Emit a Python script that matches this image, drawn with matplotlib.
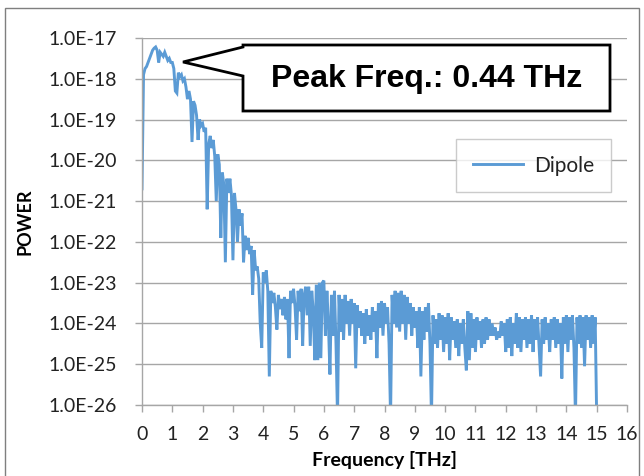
import numpy as np
import matplotlib
matplotlib.use("Agg")
import matplotlib.pyplot as plt
from matplotlib.patches import Polygon, Rectangle
from matplotlib.ticker import FixedLocator, NullLocator

# ---------------- data ----------------
freq_step_thz = 0.05  # sampling step of the spectrum
# log10 of the dipole power, one value every 0.05 THz from 0.00 to 15.00 THz
log10_power = [
    # 0.00 - 0.95
    -20.7, -17.9, -17.75, -17.7, -17.6, -17.5, -17.4, -17.3, -17.25, -17.22,
    -17.3, -17.6, -17.35, -17.4, -17.45, -17.35, -17.45, -17.55, -17.5, -17.6,
    # 1.00 - 1.95
    -17.6, -17.75, -18.3, -18.35, -17.85, -17.95, -17.9, -18.05, -18.0, -18.2,
    -18.5, -18.3, -18.5, -19.55, -18.55, -18.65, -18.9, -19.5, -19.0, -19.15,
    # 2.00 - 2.95
    -19.1, -19.3, -19.2, -21.2, -19.6, -19.4, -19.7, -19.5, -19.9, -21.0,
    -19.85, -20.1, -21.9, -20.3, -20.6, -22.5, -20.45, -20.8, -20.45, -20.85,
    # 3.00 - 3.95
    -22.45, -20.8, -21.2, -22.0, -21.2, -21.6, -21.3, -22.5, -21.85, -22.2,
    -21.9, -22.3, -22.1, -23.3, -22.2, -22.7, -22.6, -22.9, -24.0, -24.6,
    # 4.00 - 4.95
    -22.75, -23.0, -22.7, -23.2, -25.3, -23.2, -23.5, -23.25, -23.6, -24.15,
    -23.3, -23.65, -23.4, -23.8, -23.35, -23.9, -23.4, -24.85, -23.2, -23.5,
    # 5.00 - 5.95
    -23.15, -23.6, -24.4, -23.2, -23.7, -23.15, -24.55, -23.3, -23.1, -23.8,
    -23.1, -24.55, -23.2, -23.7, -24.9, -23.05, -24.9, -23.0, -24.85, -23.0,
    # 6.00 - 6.95
    -22.95, -24.3, -23.2, -24.0, -25.25, -23.3, -24.3, -23.2, -24.5, -26.3,
    -23.3, -24.2, -23.4, -24.4, -23.3, -24.0, -23.45, -24.3, -23.4, -24.0,
    # 7.00 - 7.95
    -23.5, -25.1, -23.55, -24.1, -23.7, -24.3, -23.75, -24.5, -23.65, -24.3,
    -23.8, -24.4, -23.6, -24.2, -23.7, -24.85, -23.5, -24.1, -23.45, -24.3,
    # 8.00 - 8.95
    -23.5, -24.0, -23.6, -24.5, -26.3, -23.3, -24.0, -23.2, -24.1, -23.25,
    -24.2, -23.2, -24.0, -23.3, -24.4, -23.35, -24.0, -23.5, -24.3, -23.6,
    # 9.00 - 9.95
    -24.1, -23.7, -24.6, -23.6, -25.3, -23.7, -24.4, -23.6, -24.2, -23.5,
    -24.5, -26.3, -23.8, -24.5, -23.9, -24.6, -23.75, -24.4, -23.8, -24.7,
    # 10.00 - 10.95
    -23.85, -24.5, -23.75, -24.9, -23.85, -24.4, -23.95, -24.6, -23.9, -24.8,
    -24.0, -24.5, -23.9, -24.6, -25.15, -23.7, -24.9, -23.75, -24.6, -23.9,
    # 11.00 - 11.95
    -24.7, -23.85, -24.4, -23.95, -24.6, -23.9, -24.5, -23.85, -24.4, -23.9,
    -24.3, -24.0, -24.3, -24.1, -24.4, -24.2, -24.35, -23.95, -24.3, -24.0,
    # 12.00 - 12.95
    -24.7, -23.9, -24.6, -23.85, -24.8, -24.0, -24.5, -23.75, -24.6, -23.85,
    -24.7, -23.9, -24.4, -23.85, -24.6, -23.9, -24.5, -23.8, -24.7, -23.9,
    # 13.00 - 13.95
    -24.4, -23.85, -24.6, -25.3, -23.9, -24.5, -23.85, -24.4, -24.0, -24.7,
    -23.9, -24.4, -23.85, -24.6, -23.9, -24.5, -24.0, -25.35, -23.85, -24.5,
    # 14.00 - 14.95
    -23.8, -24.7, -23.85, -24.4, -23.8, -24.6, -26.3, -23.85, -24.5, -23.8,
    -24.6, -23.85, -25.05, -23.8, -24.4, -23.85, -24.6, -23.8, -24.5, -23.85,
    # 15.00
    -26.3,
]
series_name = "Dipole"
x_ticks = list(range(0, 17))
y_tick_exponents = list(range(-26, -16))
y_tick_labels = ["1.0E-26", "1.0E-25", "1.0E-24", "1.0E-23", "1.0E-22",
                 "1.0E-21", "1.0E-20", "1.0E-19", "1.0E-18", "1.0E-17"]
x_label = "Frequency [THz]"
y_label = "POWER"
callout_text = "Peak Freq.: 0.44 THz"

# ---------------- figure ----------------
W, H = 644, 476
fig = plt.figure(figsize=(W / 100, H / 100), dpi=100)
fig.patch.set_facecolor("white")

font = ["Lato", "DejaVu Sans"]
grid_c = "#a6a6a6"
line_c = "#5b9bd5"

ax = fig.add_axes([142 / W, 1 - 405 / H, (627 - 142) / W, (405 - 38) / H])

freq = np.arange(len(log10_power)) * freq_step_thz
power = np.power(10.0, np.array(log10_power))
ax.plot(freq, power, color=line_c, lw=2.1, solid_joinstyle="miter", label=series_name)

ax.set_yscale("log")
ax.set_ylim(10.0 ** y_tick_exponents[0], 10.0 ** y_tick_exponents[-1])
ax.set_xlim(x_ticks[0], x_ticks[-1])

ax.yaxis.set_major_locator(FixedLocator([10.0 ** e for e in y_tick_exponents]))
ax.yaxis.set_minor_locator(NullLocator())
ax.set_yticklabels(y_tick_labels)
ax.set_xticks(x_ticks)
ax.set_xticklabels([str(t) for t in x_ticks])

for lab in ax.get_xticklabels() + ax.get_yticklabels():
    lab.set_family(font)
    lab.set_fontsize(14)
    lab.set_color("#222222")

ax.grid(axis="y", color=grid_c, lw=1.0)
ax.set_axisbelow(True)
for s in ("top", "right"):
    ax.spines[s].set_visible(False)
for s in ("left", "bottom"):
    ax.spines[s].set_color(grid_c)
    ax.spines[s].set_linewidth(1.0)
ax.tick_params(axis="both", colors=grid_c, length=5, width=1.0, direction="out")
ax.tick_params(axis="y", pad=13, labelcolor="#222222")
ax.tick_params(axis="x", pad=10, labelcolor="#222222")

ax.set_xlabel(x_label, family=font, fontsize=14, fontweight="bold", labelpad=6)
ax.set_ylabel(y_label, family=font, fontsize=13, fontweight="bold", labelpad=11)

leg = ax.legend(loc="upper left", bbox_to_anchor=(456 / W, 1 - 139 / H),
                bbox_transform=fig.transFigure, borderaxespad=0,
                prop={"family": font, "size": 15}, frameon=True, fancybox=False,
                edgecolor="#bfbfbf", handlelength=2.4, handletextpad=0.55,
                borderpad=0.8)
leg.get_frame().set_linewidth(1.0)
for t in leg.get_texts():
    t.set_color("#222222")

# callout box with pointer (figure pixel layout -> fraction)
def fx(px):
    return px / W

def fy(py):
    return 1 - py / H

callout = [(243, 45), (610, 45), (610, 111), (243, 111), (243, 76), (183, 62), (243, 47)]
fig.patches.append(Polygon([(fx(a), fy(b)) for a, b in callout], closed=True,
                           transform=fig.transFigure, facecolor="white",
                           edgecolor="black", lw=2.0, joinstyle="miter", zorder=5))
fig.text(fx(426.5), fy(79), callout_text, ha="center", va="center",
         family=["Liberation Sans", "DejaVu Sans"],
         fontsize=23, fontweight="bold", zorder=6)

# outer chart border
fig.patches.append(Rectangle((fx(5), fy(490)), fx(639) - fx(5), fy(8) - fy(490),
                             transform=fig.transFigure, fill=False,
                             edgecolor="#7f7f7f", lw=1.0, zorder=0))

fig.savefig("out.png", dpi=100, facecolor="white")
